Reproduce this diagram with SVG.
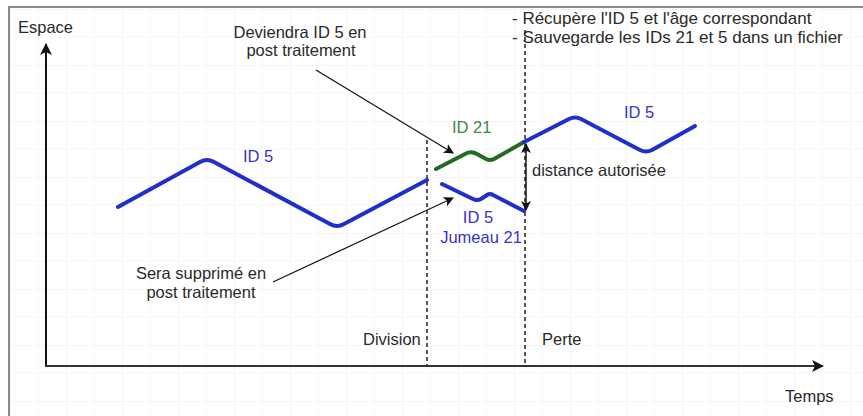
<svg xmlns="http://www.w3.org/2000/svg" width="863" height="416" viewBox="0 0 863 416">
<defs>
<pattern id="grid" x="10" y="9" width="56" height="56" patternUnits="userSpaceOnUse">
<path d="M0 0H56M0 0V56" fill="none" stroke="#ececec" stroke-width="1"/>
<path d="M0 28H56M28 0V56" fill="none" stroke="#f6f6f6" stroke-width="1"/>
</pattern>
<marker id="ah" viewBox="0 0 10 10" refX="9" refY="5" markerWidth="10" markerHeight="10" markerUnits="userSpaceOnUse" orient="auto-start-reverse">
<path d="M0 0L10 5L0 10L2.5 5Z" fill="#111"/>
</marker>
<marker id="axh" viewBox="0 0 12 12" refX="11" refY="6" markerWidth="12" markerHeight="12" markerUnits="userSpaceOnUse" orient="auto">
<path d="M0 0L12 6L0 12L3 6Z" fill="#111"/>
</marker>
</defs>
<style>
text{font-family:"Liberation Sans",Arial,sans-serif;font-size:16.5px;fill:#2a2a2a}
.c{text-anchor:middle}
.big{font-size:17px}
.b{fill:#3535cc}
.g{fill:#3c8a3c}
.track{fill:none;stroke-width:4;stroke-linecap:round;stroke-linejoin:round}
.blue{stroke:#1f2fcc}
.green{stroke:#236b23}
.dash{stroke:#222;stroke-width:1.5;stroke-dasharray:4 3;fill:none}
.ptr{stroke:#111;stroke-width:1.2;fill:none;marker-end:url(#ah)}
</style>
<rect width="863" height="416" fill="#fff"/>
<rect x="9" y="7" width="854" height="409" fill="url(#grid)"/>
<path d="M9 416V7H863" fill="none" stroke="#8a8a8a" stroke-width="2"/>

<g id="axes">
<line x1="46" y1="366" x2="46" y2="44" stroke="#111" stroke-width="2" marker-end="url(#axh)"/>
<line x1="45" y1="366" x2="823" y2="366" stroke="#333" stroke-width="2" marker-end="url(#axh)"/>
<text x="18" y="33">Espace</text>
<text x="785" y="402">Temps</text>
</g>

<g id="events">
<line class="dash" x1="427" y1="140" x2="427" y2="366"/>
<line class="dash" x1="525" y1="30" x2="525" y2="366"/>
<text x="363" y="345">Division</text>
<text x="542" y="345">Perte</text>
<text class="big" x="512" y="24">- Récupère l'ID 5 et l'âge correspondant</text>
<text class="big" x="512" y="43">- Sauvegarde les IDs 21 et 5 dans un fichier</text>
</g>

<g id="id5-before">
<path class="track blue" d="M118 207L200 162Q207 158 214 162L330 224Q337 228 344 224L427 180"/>
<text class="b" x="243" y="162">ID 5</text>
</g>

<g id="id21">
<path class="track green" d="M436 169L467 153Q472 151 477 154L486 159Q490 161 494 159L524 142"/>
<text class="g" x="452" y="133">ID 21</text>
</g>

<g id="id5-twin">
<path class="track blue" d="M442 184L473 199Q477 201 481 199L487 195Q490 193 493 195L524 211"/>
<text class="b c" x="478" y="223">ID 5</text>
<text class="b c" x="481" y="243">Jumeau 21</text>
</g>

<g id="id5-after">
<path class="track blue" d="M524 142L569 119Q575 116 581 119L640 150Q646 153 652 150L695 126"/>
<text class="b" x="624" y="118">ID 5</text>
</g>

<g id="notes">
<text class="c" x="300" y="38">Deviendra ID 5 en</text>
<text class="c" x="301" y="56">post traitement</text>
<text class="c" x="201" y="279">Sera supprimé en</text>
<text class="c" x="201" y="298">post traitement</text>
<text x="532" y="176">distance autorisée</text>
</g>

<g id="connectors">
<line class="ptr" x1="316" y1="70" x2="453" y2="153"/>
<line class="ptr" x1="273" y1="282" x2="453" y2="198"/>
<line x1="526" y1="144" x2="526" y2="210" stroke="#111" stroke-width="1.5" marker-start="url(#ah)" marker-end="url(#ah)"/>
</g>
</svg>
